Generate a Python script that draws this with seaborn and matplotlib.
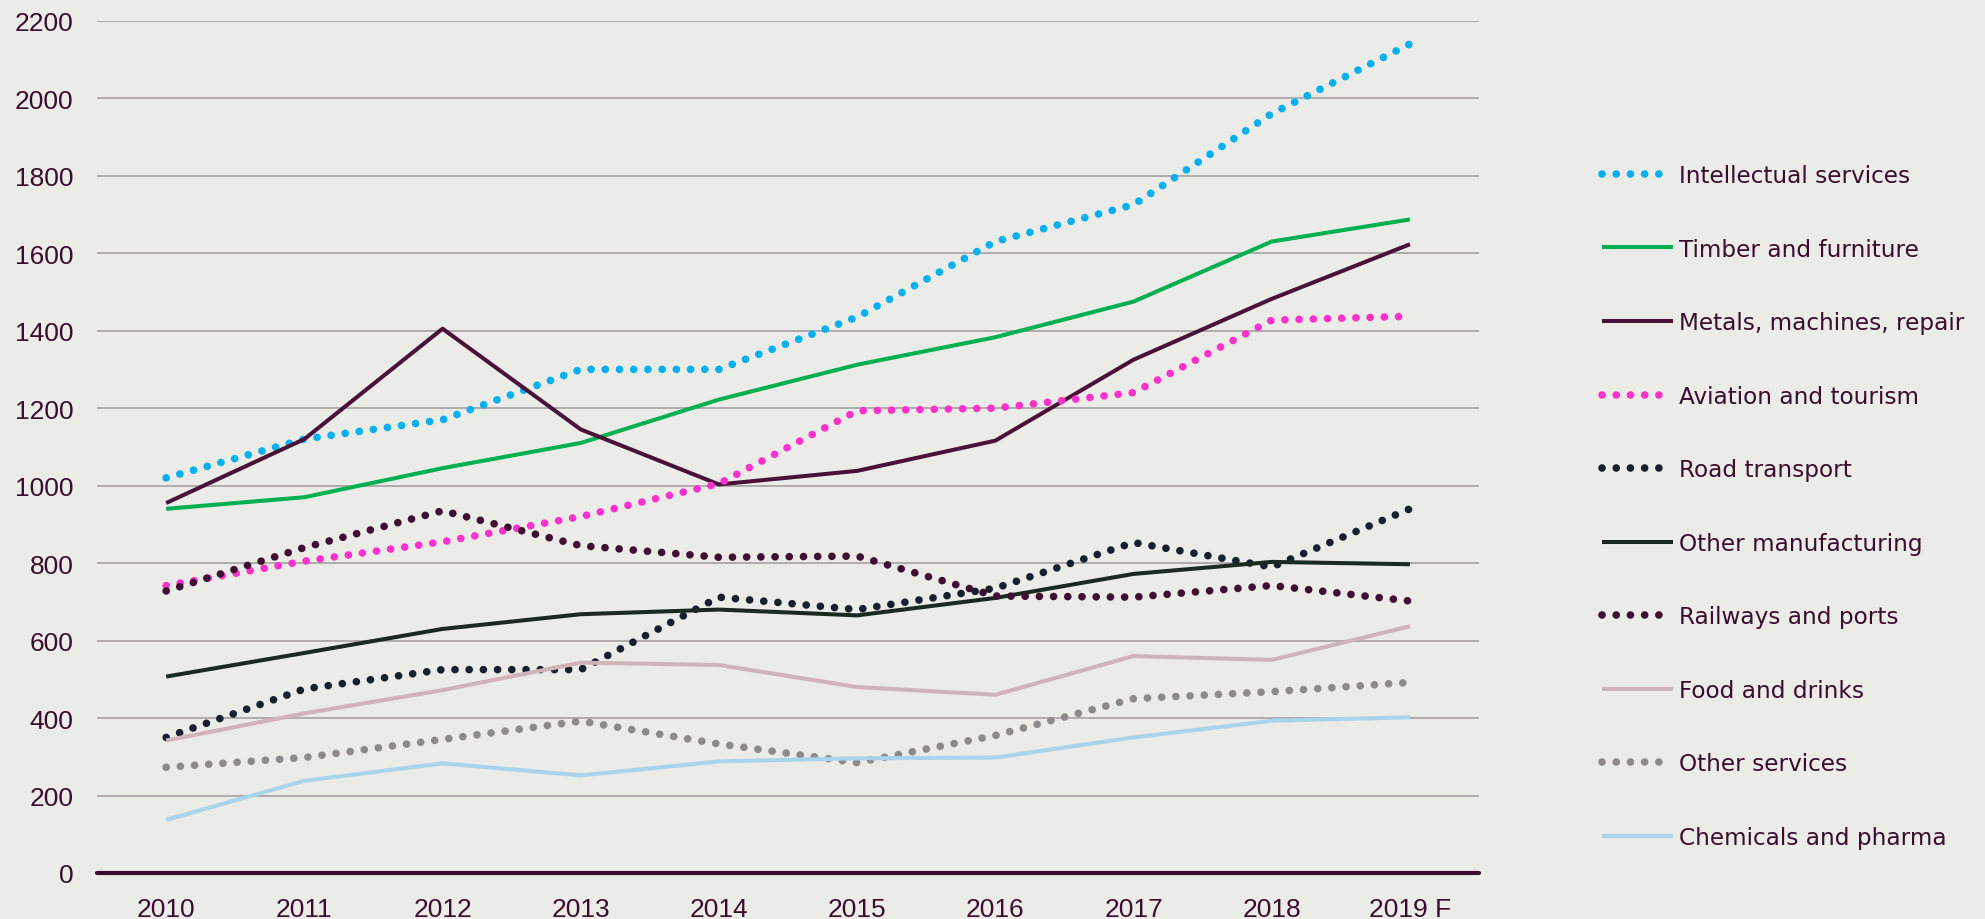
import pandas as pd
import matplotlib.pyplot as plt
import seaborn as sns

# data
years = ['2010', '2011', '2012', '2013', '2014', '2015', '2016', '2017', '2018', '2019 F']

intellectual = [1020, 1120, 1170, 1300, 1300, 1435, 1630, 1725, 1960, 2140]
timber = [940, 970, 1045, 1110, 1222, 1312, 1383, 1475, 1630, 1687]
metals = [955, 1120, 1405, 1145, 1003, 1038, 1116, 1325, 1482, 1623]
aviation = [742, 805, 855, 920, 1005, 1193, 1200, 1240, 1427, 1437]
road = [350, 475, 525, 525, 712, 680, 735, 853, 790, 940]
other_manuf = [507, 568, 630, 668, 680, 665, 710, 772, 803, 797]
railways = [728, 840, 935, 845, 815, 818, 715, 712, 742, 702]
food = [342, 412, 472, 543, 537, 480, 460, 560, 550, 637]
other_serv = [273, 298, 345, 392, 333, 285, 355, 450, 468, 492]
chemicals = [137, 238, 283, 252, 288, 296, 298, 350, 393, 402]

series = [
    ('Intellectual services', intellectual, '#00b0f0', True),
    ('Timber and furniture', timber, '#00b050', False),
    ('Metals, machines, repair', metals, '#4a1239', False),
    ('Aviation and tourism', aviation, '#ff33cc', True),
    ('Road transport', road, '#17202e', True),
    ('Other manufacturing', other_manuf, '#1a2a20', False),
    ('Railways and ports', railways, '#3f0f33', True),
    ('Food and drinks', food, '#d0b3b8', False),
    ('Other services', other_serv, '#8e898b', True),
    ('Chemicals and pharma', chemicals, '#a8d4ec', False),
]

BG = '#ebebe7'
TXT = '#3b0d2e'

sns.set_style('white')
plt.rcParams['font.family'] = ['Liberation Sans', 'DejaVu Sans']

fig = plt.figure(figsize=(19.85, 9.2), dpi=100, facecolor=BG)
ax = fig.add_axes([0.0489, 0.05, 0.6962, 0.9264])
ax.set_facecolor(BG)

xpos = list(range(len(years)))
for name, vals, color, dotted in series:
    df = pd.DataFrame({'x': xpos, 'y': vals})
    sns.lineplot(data=df, x='x', y='y', ax=ax, color=color,
                 linewidth=5.5 if dotted else 2.9, label=name, zorder=3)
    line = ax.lines[-1]
    if dotted:
        line.set_dashes((0.01, 1.85))
        line.set_dash_capstyle('round')
    else:
        line.set_solid_capstyle('butt')

ax.set_xlim(-0.5, len(years) - 0.5)
ax.set_ylim(0, 2200)
ax.set_yticks(range(0, 2201, 200))
ax.set_xticks(xpos)
ax.set_xticklabels(years)
ax.set_xlabel('')
ax.set_ylabel('')

ax.grid(axis='y', color='#a09a9c', linewidth=1.1, zorder=0)
ax.grid(axis='x', visible=False)
ax.set_axisbelow(True)
for s in ax.spines.values():
    s.set_visible(False)
ax.axhline(0, color='#3b0d2e', linewidth=3.0, zorder=4, clip_on=False)

ax.tick_params(axis='both', length=0, labelsize=19, colors=TXT)
ax.tick_params(axis='y', pad=17)
ax.tick_params(axis='x', pad=17)

ax.legend(loc='upper left', bbox_to_anchor=(0.807, 0.8207),
          bbox_transform=fig.transFigure, frameon=False,
          prop={'family': 'DejaVu Sans', 'size': 16.7},
          labelcolor=TXT, handlelength=3.05, handletextpad=0.27,
          labelspacing=2.18, borderpad=0, borderaxespad=0)

fig.savefig('out.png', dpi=100, facecolor=BG)
